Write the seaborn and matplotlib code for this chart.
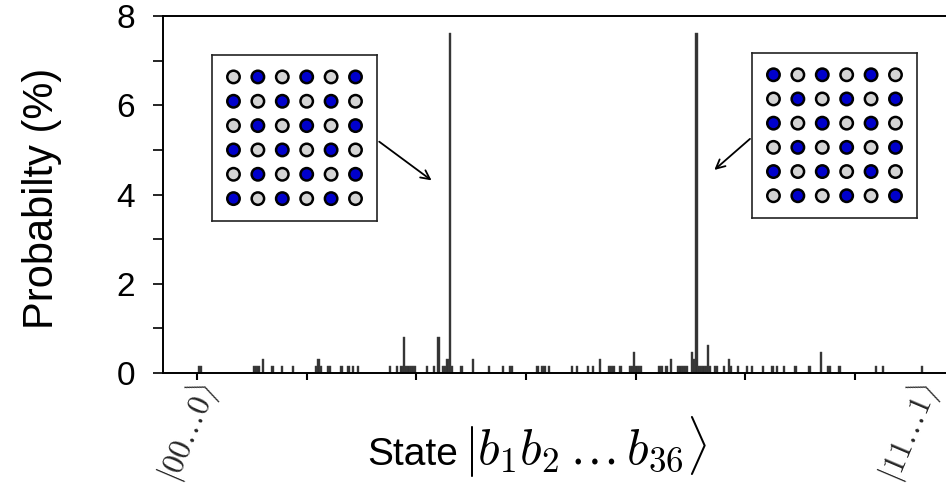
import numpy as np
import pandas as pd
import matplotlib
matplotlib.use("Agg")
import matplotlib.pyplot as plt
import seaborn as sns

# state value in units of 1e10 (0 = |00...0>, 2**36/1e10 = |11...1>)
state_pos = [0.014, 0.036, 0.511, 0.534, 0.557, 0.598, 0.684, 0.776, 0.885,
             1.086, 1.109, 1.131, 1.186, 1.209, 1.314, 1.387, 1.423, 1.469,
             1.752, 1.834, 1.857, 1.880, 1.903, 1.925, 1.953, 1.975, 1.998,
             2.099, 2.162, 2.208, 2.245, 2.267, 2.290, 2.313, 2.336, 2.418,
             2.527, 2.673, 2.792, 2.856, 2.879, 3.102, 3.148, 3.175, 3.221,
             3.422, 3.458, 3.567, 3.613, 3.677, 3.759, 3.782, 3.805, 3.869,
             3.942, 3.965, 3.987, 4.010, 4.033, 4.056, 4.215, 4.238, 4.279,
             4.325, 4.389, 4.411, 4.434, 4.457, 4.480, 4.507, 4.530, 4.553,
             4.576, 4.599, 4.622, 4.645, 4.668, 4.691, 4.717, 4.745, 4.813,
             4.840, 4.881, 4.945, 5.018, 5.064, 5.173, 5.255, 5.292, 5.365,
             5.456, 5.584, 5.693, 5.757, 5.780, 5.867, 6.195, 6.250, 6.606]
prob = [0.15, 0.15, 0.15, 0.15, 0.15, 0.32, 0.15, 0.15, 0.15,
        0.15, 0.32, 0.15, 0.15, 0.15, 0.15, 0.15, 0.15, 0.15,
        0.15, 0.15, 0.15, 0.81, 0.15, 0.15, 0.15, 0.15, 0.15,
        0.15, 0.15, 0.81, 0.15, 0.15, 0.32, 7.62, 0.15, 0.15,
        0.32, 0.15, 0.15, 0.15, 0.15, 0.15, 0.15, 0.15, 0.15,
        0.15, 0.15, 0.15, 0.15, 0.32, 0.15, 0.15, 0.15, 0.15,
        0.15, 0.15, 0.47, 0.15, 0.15, 0.15, 0.15, 0.15, 0.15,
        0.32, 0.15, 0.15, 0.15, 0.15, 0.15, 0.47, 0.32, 7.62,
        0.15, 0.15, 0.15, 0.15, 0.62, 0.15, 0.15, 0.15, 0.15,
        0.32, 0.15, 0.15, 0.15, 0.15, 0.15, 0.15, 0.15, 0.15,
        0.15, 0.15, 0.47, 0.15, 0.15, 0.15, 0.15, 0.15, 0.15]

# spin configurations of the two peak states (1 = blue)
config_left = [[0, 1, 0, 1, 0, 1],
               [1, 0, 1, 0, 1, 0],
               [0, 1, 0, 1, 0, 1],
               [1, 0, 1, 0, 1, 0],
               [0, 1, 0, 1, 0, 1],
               [1, 0, 1, 0, 1, 0]]
config_right = [[1, 0, 1, 0, 1, 0],
                [0, 1, 0, 1, 0, 1],
                [1, 0, 1, 0, 1, 0],
                [0, 1, 0, 1, 0, 1],
                [1, 0, 1, 0, 1, 0],
                [0, 1, 0, 1, 0, 1]]

sns.set_style("ticks")
plt.rcParams["font.family"] = ["Liberation Sans", "DejaVu Sans"]
plt.rcParams["mathtext.fontset"] = "cm"

fig = plt.figure(figsize=(9.46, 4.93), dpi=100)
ax = fig.add_axes([0.1723, 0.2434, 0.83, 0.7241])

df = pd.DataFrame({"state": state_pos, "prob": prob})
sns.histplot(data=df, x="state", weights="prob", binwidth=0.021,
             binrange=(-0.31, 6.9), ax=ax,
             color="#333333", edgecolor="#444444", linewidth=0.3, alpha=1)

ax.set_xlim(-0.31, 6.852)
ax.set_ylim(0, 8)
ax.set_xticks(range(7))
ax.set_xticklabels([])
ax.set_yticks([0, 2, 4, 6, 8])
ax.set_yticks([1, 3, 5, 7], minor=True)
ax.tick_params(axis="y", which="both", length=7, width=1.2, pad=13,
               labelsize=24, colors="black")
ax.tick_params(axis="x", length=5, width=1.5, colors="black")
for s in ax.spines.values():
    s.set_linewidth(1.4)
    s.set_color("black")

ax.set_ylabel("Probabilty (%)", fontsize=30, color="black")
ax.yaxis.set_label_coords(-0.128, 0.49)
ax.set_xlabel("")

# x label: plain word plus larger ket
ax.text(0.376, -0.258, "State", transform=ax.transAxes, fontsize=28,
        ha="right", va="baseline", color="black")
ax.text(0.383, -0.258, r"$|b_1b_2\,\ldots\,b_{36}\rangle$", transform=ax.transAxes,
        fontsize=36, ha="left", va="baseline", color="black")

tr = ax.get_xaxis_transform()
ax.text(0.09, -0.032, r"$|00\ldots0\rangle$", transform=tr, fontsize=23,
        rotation=67, rotation_mode="anchor", ha="right", va="center")
ax.text(6.67, -0.032, r"$|11\ldots1\rangle$", transform=tr, fontsize=23,
        rotation=67, rotation_mode="anchor", ha="right", va="center")

# arrows from insets to peaks
ax.annotate("", xy=(2.16, 4.28), xytext=(0.3985, 0.716), textcoords="figure fraction",
            arrowprops=dict(arrowstyle="->", color="black", lw=1.3, mutation_scale=16))
ax.annotate("", xy=(4.70, 4.51), xytext=(0.795, 0.722), textcoords="figure fraction",
            arrowprops=dict(arrowstyle="->", color="black", lw=1.3, mutation_scale=16))


def draw_config(rect, config):
    iax = fig.add_axes(rect)
    rows, cols = np.indices((6, 6))
    cdf = pd.DataFrame({"col": cols.ravel(), "row": rows.ravel(),
                        "spin": np.array(config).ravel()})
    sns.scatterplot(data=cdf, x="col", y="row", hue="spin",
                    palette={0: "#d4d4d4", 1: "#0000cc"}, s=80,
                    edgecolor="black", linewidth=1.8, legend=False, ax=iax)
    iax.set_xlim(-0.88, 5.88)
    iax.set_ylim(5.92, -0.9)
    iax.set_xticks([])
    iax.set_yticks([])
    iax.set_xlabel("")
    iax.set_ylabel("")
    iax.set_facecolor("white")
    for s in iax.spines.values():
        s.set_linewidth(1.2)
        s.set_color("#222222")


draw_config([0.2241, 0.5517, 0.1744, 0.3367], config_left)
draw_config([0.7949, 0.5578, 0.1744, 0.3347], config_right)

fig.savefig("out.png", dpi=100)
